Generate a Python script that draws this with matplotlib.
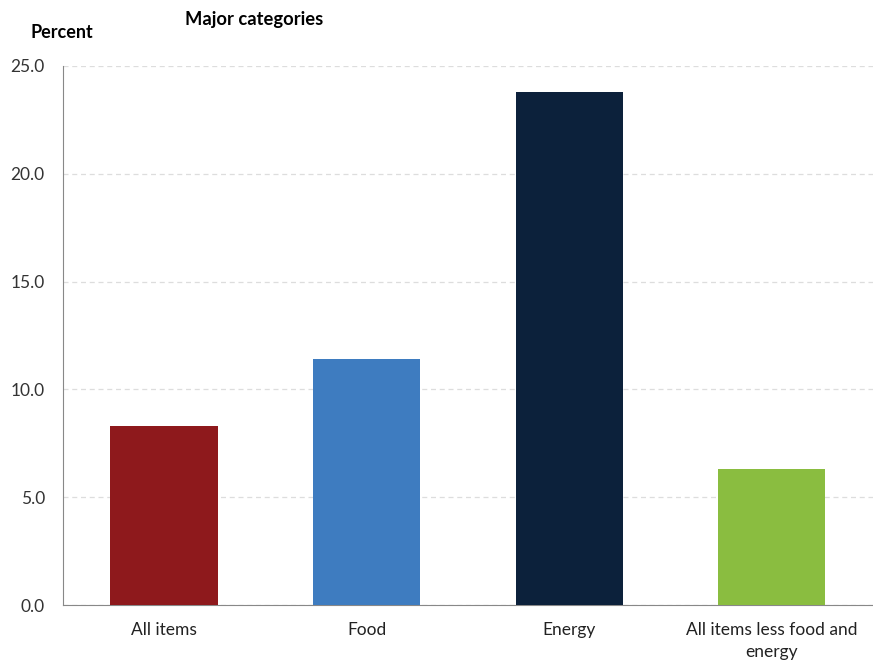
import numpy as np
import matplotlib
matplotlib.use('Agg')
from matplotlib import pyplot as plt

categories = ['All items', 'Food', 'Energy', 'All items less food and\nenergy']
values = [8.3, 11.4, 23.8, 6.3]
colors = ['#8E191C', '#3E7CC0', '#0C213B', '#8ABD40']
yticks = [0.0, 5.0, 10.0, 15.0, 20.0, 25.0]

plt.rcParams['font.family'] = ['Lato', 'DejaVu Sans']

fig = plt.figure(figsize=(8.73, 6.6), dpi=100)
ax = fig.add_axes([0.072, 0.0833, 0.928, 0.8167])

x = np.arange(len(categories))
ax.bar(x, values, width=0.53, color=colors, zorder=3)

ax.set_xlim(-0.5, 3.5)
ax.set_ylim(0, 25)
ax.set_yticks(yticks)
ax.set_yticklabels(['%.1f' % t for t in yticks], fontsize=12.5, color='#333333')
ax.set_xticks(x)
ax.set_xticklabels(categories, fontsize=12.5, color='#222222', linespacing=1.5)
ax.tick_params(axis='both', length=0, pad=12)
ax.tick_params(axis='y', pad=13)
ax.grid(axis='y', color='#DDDDDD', linestyle=(0, (4, 3)), linewidth=0.9, zorder=0)

for s in ['top', 'right']:
    ax.spines[s].set_visible(False)
ax.spines['left'].set_color('#888888')
ax.spines['bottom'].set_color('#888888')

fig.text(185 / 873, 1 - 19 / 660, 'Major categories', fontsize=13.2, fontweight='bold', va='center', ha='left')
fig.text(30 / 873, 1 - 33 / 660, 'Percent', fontsize=13, fontweight='bold', va='center', ha='left')

fig.savefig('out.png', dpi=100)
